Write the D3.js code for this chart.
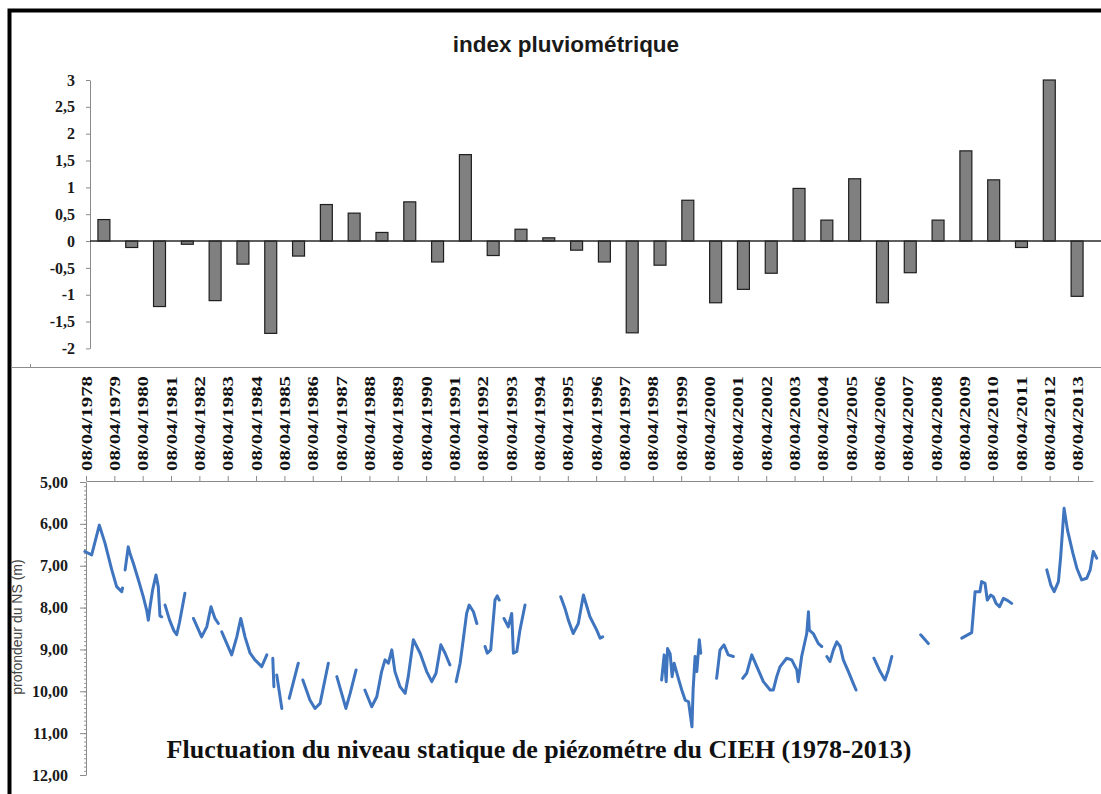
<!DOCTYPE html>
<html>
<head>
<meta charset="utf-8">
<script src="https://cdn.jsdelivr.net/npm/d3@7/dist/d3.min.js"></script>
<style>
  html, body { margin: 0; padding: 0; background: #ffffff; }
  svg { display: block; }
</style>
</head>
<body>
<svg id="chart" width="1101" height="794"></svg>
<script>
// ---------------- DATA ----------------
const years = [1978,1979,1980,1981,1982,1983,1984,1985,1986,1987,1988,1989,1990,1991,1992,1993,1994,1995,1996,1997,1998,1999,2000,2001,2002,2003,2004,2005,2006,2007,2008,2009,2010,2011,2012,2013];

const rainIndex = [0.40,-0.12,-1.22,-0.06,-1.11,-0.43,-1.72,-0.28,0.68,0.52,0.16,0.73,-0.39,1.61,-0.27,0.22,0.06,-0.17,-0.39,-1.71,-0.45,0.76,-1.15,-0.90,-0.60,0.98,0.39,1.16,-1.15,-0.59,0.39,1.68,1.14,-0.12,3.00,-1.03];

const rainTicks = [-2,-1.5,-1,-0.5,0,0.5,1,1.5,2,2.5,3];
const rainTickLabels = ["-2","-1,5","-1","-0,5","0","0,5","1","1,5","2","2,5","3"];

const dateLabels = years.map(y => "08/04/" + y);

const depthTicks = [5,6,7,8,9,10,11,12];
const depthTickLabels = ["5,00","6,00","7,00","8,00","9,00","10,00","11,00","12,00"];

// piezometric depth (m) : [decimal year, depth]; null = gap in record
const piezo = [
  [1977.96,6.66],[1978.20,6.74],[1978.47,6.03],[1978.67,6.46],[1978.91,7.10],[1979.08,7.50],[1979.26,7.62],[1979.29,7.53],
  null,
  [1979.38,7.10],[1979.49,6.55],[1979.55,6.70],[1979.67,6.94],[1979.85,7.34],[1980.02,7.74],[1980.14,8.06],[1980.20,8.30],[1980.26,7.98],[1980.35,7.58],[1980.47,7.22],[1980.55,7.50],[1980.61,8.20],[1980.67,8.22],
  null,
  [1980.79,7.94],[1980.95,8.30],[1981.10,8.55],[1981.20,8.65],[1981.30,8.35],[1981.49,7.66],
  null,
  [1981.79,8.26],[1982.08,8.70],[1982.26,8.46],[1982.41,7.98],[1982.55,8.26],[1982.67,8.38],
  null,
  [1982.79,8.58],[1983.14,9.13],[1983.32,8.70],[1983.46,8.26],[1983.61,8.70],[1983.79,9.09],[1983.96,9.25],[1984.20,9.41],[1984.38,9.13],
  null,
  [1984.59,9.21],[1984.63,9.89],
  null,
  [1984.73,9.61],[1984.91,10.41],
  null,
  [1985.17,10.17],[1985.49,9.33],
  null,
  [1985.65,9.73],[1985.90,10.21],[1986.08,10.41],[1986.26,10.29],[1986.55,9.33],
  null,
  [1986.85,9.65],[1987.02,10.05],[1987.17,10.41],[1987.32,10.05],[1987.53,9.49],
  null,
  [1987.84,9.97],[1988.08,10.37],[1988.26,10.13],[1988.43,9.53],[1988.55,9.25],[1988.67,9.33],[1988.79,9.01],[1988.90,9.53],[1989.08,9.89],[1989.26,10.05],[1989.37,9.65],[1989.55,8.77],[1989.79,9.09],[1990.02,9.53],[1990.20,9.77],[1990.35,9.57],[1990.52,8.89],[1990.67,9.09],[1990.84,9.37],
  null,
  [1991.06,9.77],[1991.20,9.33],[1991.31,8.77],[1991.43,8.14],[1991.52,7.94],[1991.67,8.10],[1991.79,8.38],
  null,
  [1992.08,8.93],[1992.16,9.09],[1992.28,9.01],[1992.43,7.82],[1992.51,7.72],[1992.58,7.82],
  null,
  [1992.75,8.26],[1992.90,8.46],[1993.02,8.14],[1993.08,9.09],[1993.20,9.05],[1993.31,8.54],[1993.49,7.94],
  null,
  [1994.75,7.74],[1994.90,8.02],[1995.02,8.30],[1995.19,8.62],[1995.37,8.38],[1995.55,7.70],[1995.78,8.22],[1996.02,8.54],[1996.14,8.73],[1996.23,8.70],
  null,
  [1998.31,9.73],[1998.40,9.13],[1998.47,9.77],[1998.52,8.98],[1998.61,9.10],[1998.68,9.65],[1998.75,9.33],[1998.90,9.69],[1999.02,9.97],[1999.14,10.21],[1999.26,10.25],[1999.38,10.85],[1999.42,9.97],[1999.49,9.17],[1999.55,9.53],[1999.64,8.77],[1999.69,9.09],
  null,
  [2000.25,9.69],[2000.37,9.01],[2000.51,8.89],[2000.66,9.13],[2000.84,9.17],
  null,
  [2001.17,9.69],[2001.31,9.57],[2001.49,9.13],[2001.67,9.41],[2001.90,9.77],[2002.14,9.97],[2002.25,9.97],[2002.37,9.65],[2002.49,9.41],[2002.72,9.21],[2002.90,9.25],[2003.08,9.49],[2003.13,9.77],[2003.25,9.17],[2003.43,8.62],[2003.49,8.10],[2003.52,8.54],[2003.66,8.62],[2003.84,8.86],[2003.96,8.93],
  null,
  [2004.14,9.17],[2004.25,9.29],[2004.37,9.01],[2004.49,8.82],[2004.61,8.93],[2004.72,9.25],[2004.90,9.53],[2005.07,9.81],[2005.17,9.97],
  null,
  [2005.80,9.21],[2006.02,9.53],[2006.19,9.73],[2006.31,9.49],[2006.43,9.17],
  null,
  [2007.45,8.65],[2007.72,8.86],
  null,
  [2008.90,8.73],[2009.25,8.60],[2009.37,7.62],[2009.54,7.62],[2009.60,7.38],[2009.72,7.42],[2009.80,7.82],[2009.92,7.70],[2010.01,7.74],[2010.11,7.90],[2010.23,7.98],[2010.37,7.78],[2010.49,7.82],[2010.66,7.90],
  null,
  [2011.90,7.10],[2012.04,7.46],[2012.16,7.62],[2012.31,7.38],[2012.39,6.78],[2012.51,5.63],[2012.63,6.15],[2012.82,6.70],[2012.96,7.06],[2013.13,7.34],[2013.31,7.30],[2013.43,7.10],[2013.54,6.66],[2013.66,6.82]
];

// ---------------- DRAW ----------------
const svg = d3.select("#chart");
const SERIF = "'Liberation Serif','Times New Roman',serif";
const SANS = "'Liberation Sans',Arial,sans-serif";

// outer frame
svg.append("rect").attr("x", 9.5).attr("y", 10.5).attr("width", 1100).attr("height", 800)
  .attr("fill", "none").attr("stroke", "#000").attr("stroke-width", 4);

// separator between the two charts
svg.append("line").attr("x1", 11).attr("x2", 1101).attr("y1", 367.5).attr("y2", 367.5)
  .attr("stroke", "#8c8c8c").attr("stroke-width", 1);
svg.append("line").attr("x1", 30.5).attr("x2", 30.5).attr("y1", 364).attr("y2", 367.5)
  .attr("stroke", "#8c8c8c").attr("stroke-width", 1);

// ===== top chart : index pluviométrique =====
const xBand = d3.scaleBand().domain(years).range([90, 1091]).paddingInner(0.57).paddingOuter(0.285);
const yRain = d3.scaleLinear().domain([-2, 3]).range([348.4, 80]);

svg.append("text").attr("x", 566).attr("y", 52).attr("text-anchor", "middle")
  .attr("font-family", SANS).attr("font-weight", "bold").attr("font-size", 22.5)
  .attr("fill", "#1a1a1a").text("index pluviométrique");

const gy = svg.append("g").attr("transform", "translate(90,0)")
  .call(d3.axisLeft(yRain).tickValues(rainTicks).tickFormat((d, i) => rainTickLabels[i])
    .tickSize(4).tickSizeOuter(0).tickPadding(11));
gy.select(".domain").attr("stroke", "#8a8a8a");
gy.selectAll(".tick line").attr("stroke", "#8a8a8a");
gy.selectAll(".tick text").attr("font-family", SERIF).attr("font-weight", "bold")
  .attr("font-size", 16).attr("fill", "#1a1a1a");

svg.append("g").selectAll("rect").data(years).join("rect")
  .attr("x", d => xBand(d))
  .attr("width", xBand.bandwidth())
  .attr("y", (d, i) => yRain(Math.max(0, rainIndex[i])))
  .attr("height", (d, i) => Math.abs(yRain(rainIndex[i]) - yRain(0)))
  .attr("fill", "#808080").attr("stroke", "#1e1e1e").attr("stroke-width", 1.2);

// zero line (category axis)
svg.append("line").attr("x1", 90).attr("x2", 1101).attr("y1", yRain(0)).attr("y2", yRain(0))
  .attr("stroke", "#2a2a2a").attr("stroke-width", 1.6);

// ===== bottom chart : piezometric level =====
const xDate = d3.scaleLinear().domain([1978, 2013.53]).range([86, 1093]);
const yDepth = d3.scaleLinear().domain([5, 12]).range([482, 775]);

const gx = svg.append("g").attr("transform", "translate(0,481)")
  .call(d3.axisTop(xDate).tickValues(years).tickFormat((d, i) => dateLabels[i])
    .tickSize(5).tickSizeOuter(0));
gx.select(".domain").attr("stroke", "#8a8a8a");
gx.selectAll(".tick line").attr("stroke", "#8a8a8a");
gx.selectAll(".tick text")
  .attr("transform", "rotate(-90)")
  .attr("x", 10).attr("y", 5).attr("dy", 0)
  .attr("text-anchor", "start")
  .attr("font-family", SERIF).attr("font-weight", "bold").attr("font-size", 15)
  .attr("textLength", 95).attr("lengthAdjust", "spacingAndGlyphs")
  .attr("fill", "#111");

// minor ticks on depth axis
svg.append("g").attr("transform", "translate(86,0)")
  .call(d3.axisLeft(yDepth).ticks(70).tickSize(2).tickFormat(""))
  .call(g => g.select(".domain").remove())
  .selectAll(".tick line").attr("stroke", "#9a9a9a");

const gd = svg.append("g").attr("transform", "translate(86,0)")
  .call(d3.axisLeft(yDepth).tickValues(depthTicks).tickFormat((d, i) => depthTickLabels[i])
    .tickSize(6).tickSizeOuter(0).tickPadding(12));
gd.select(".domain").attr("stroke", "#8a8a8a");
gd.selectAll(".tick line").attr("stroke", "#8a8a8a");
gd.selectAll(".tick text").attr("font-family", SERIF).attr("font-weight", "bold")
  .attr("font-size", 16).attr("fill", "#1a1a1a");

svg.append("text")
  .attr("transform", "translate(22,627) rotate(-90)")
  .attr("text-anchor", "middle")
  .attr("font-family", SANS).attr("font-size", 14).attr("fill", "#444")
  .text("profondeur du NS (m)");

const line = d3.line()
  .defined(d => d !== null)
  .x(d => xDate(d[0]))
  .y(d => yDepth(d[1]));

svg.append("path").datum(piezo)
  .attr("d", line)
  .attr("fill", "none").attr("stroke", "#3f74bf").attr("stroke-width", 3)
  .attr("stroke-linejoin", "round").attr("stroke-linecap", "round");

svg.append("text").attr("x", 539).attr("y", 758).attr("text-anchor", "middle")
  .attr("font-family", SERIF).attr("font-weight", "bold").attr("font-size", 26)
  .attr("fill", "#111")
  .text("Fluctuation du niveau statique de piézométre du CIEH (1978-2013)");
</script>
</body>
</html>
